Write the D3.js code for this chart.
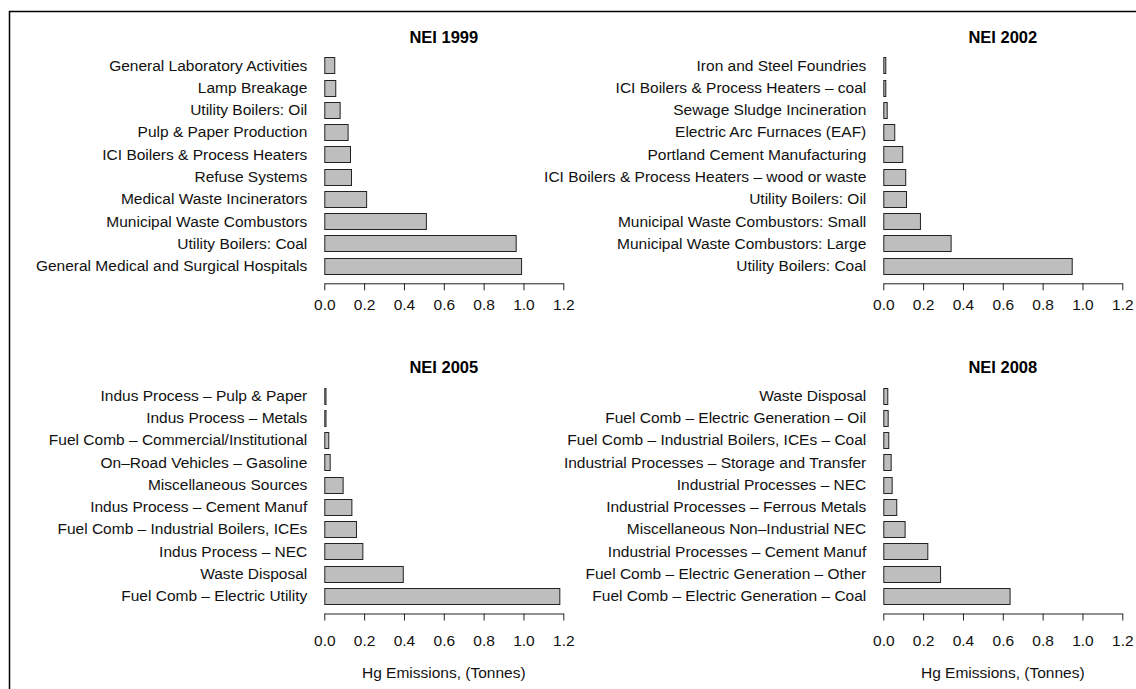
<!DOCTYPE html>
<html>
<head>
<meta charset="utf-8">
<script src="https://cdn.jsdelivr.net/npm/d3@7"></script>
<style>
  body { margin: 0; background: #fff; }
  svg { display: block; font-family: "Liberation Sans", Arial, Helvetica, sans-serif; }
</style>
</head>
<body>
<svg id="chart" width="1136" height="689"></svg>
<script>
// categories listed top to bottom as they appear in each panel
const cats1999 = ['General Laboratory Activities', 'Lamp Breakage', 'Utility Boilers: Oil',
  'Pulp & Paper Production', 'ICI Boilers & Process Heaters', 'Refuse Systems',
  'Medical Waste Incinerators', 'Municipal Waste Combustors', 'Utility Boilers: Coal',
  'General Medical and Surgical Hospitals'];
const vals1999 = [0.05, 0.055, 0.077, 0.117, 0.129, 0.134, 0.21, 0.51, 0.961, 0.988];

const cats2002 = ['Iron and Steel Foundries', 'ICI Boilers & Process Heaters \u2013 coal',
  'Sewage Sludge Incineration', 'Electric Arc Furnaces (EAF)', 'Portland Cement Manufacturing',
  'ICI Boilers & Process Heaters \u2013 wood or waste', 'Utility Boilers: Oil',
  'Municipal Waste Combustors: Small', 'Municipal Waste Combustors: Large', 'Utility Boilers: Coal'];
const vals2002 = [0.01, 0.01, 0.017, 0.055, 0.095, 0.11, 0.114, 0.184, 0.338, 0.946];

const cats2005 = ['Indus Process \u2013 Pulp & Paper', 'Indus Process \u2013 Metals',
  'Fuel Comb \u2013 Commercial/Institutional', 'On\u2013Road Vehicles \u2013 Gasoline',
  'Miscellaneous Sources', 'Indus Process \u2013 Cement Manuf',
  'Fuel Comb \u2013 Industrial Boilers, ICEs', 'Indus Process \u2013 NEC', 'Waste Disposal',
  'Fuel Comb \u2013 Electric Utility'];
const vals2005 = [0.006, 0.006, 0.02, 0.027, 0.092, 0.136, 0.159, 0.191, 0.394, 1.18];

const cats2008 = ['Waste Disposal', 'Fuel Comb \u2013 Electric Generation \u2013 Oil',
  'Fuel Comb \u2013 Industrial Boilers, ICEs \u2013 Coal',
  'Industrial Processes \u2013 Storage and Transfer', 'Industrial Processes \u2013 NEC',
  'Industrial Processes \u2013 Ferrous Metals', 'Miscellaneous Non\u2013Industrial NEC',
  'Industrial Processes \u2013 Cement Manuf', 'Fuel Comb \u2013 Electric Generation \u2013 Other',
  'Fuel Comb \u2013 Electric Generation \u2013 Coal'];
const vals2008 = [0.02, 0.022, 0.025, 0.037, 0.042, 0.065, 0.107, 0.221, 0.285, 0.634];

const xTicks = [0, 0.2, 0.4, 0.6, 0.8, 1.0, 1.2];
const xLabel = 'Hg Emissions, (Tonnes)';

const svg = d3.select('#chart');

// outer frame, runs off the right and bottom edges
svg.append('rect')
  .attr('x', 9.5).attr('y', 11.5)
  .attr('width', 1300).attr('height', 900)
  .attr('fill', 'none').attr('stroke', '#000').attr('stroke-width', 1.5);

function drawPanel(title, cats, vals, x0, top, xlab) {
  const g = svg.append('g');
  const x = d3.scaleLinear().domain([0, 1.2]).range([x0, x0 + 239]);
  const y = d3.scaleBand().domain(cats).range([top, top + 216.3]).paddingInner(0.28);

  g.selectAll('rect.bar')
    .data(cats)
    .join('rect')
    .attr('class', 'bar')
    .attr('x', x(0) + 0.5)
    .attr('y', d => Math.round(y(d)) + 0.5)
    .attr('width', (d, i) => x(vals[i]) - x(0))
    .attr('height', Math.round(y.bandwidth()))
    .attr('fill', '#bebebe')
    .attr('stroke', '#222')
    .attr('stroke-width', 1);

  g.selectAll('text.cat')
    .data(cats)
    .join('text')
    .attr('class', 'cat')
    .attr('x', x(0) - 17)
    .attr('y', d => y(d) + y.bandwidth() / 2)
    .attr('dy', '0.35em')
    .attr('text-anchor', 'end')
    .attr('font-size', '15.5px')
    .attr('fill', '#111')
    .text(d => d);

  g.append('text')
    .attr('x', (x.range()[0] + x.range()[1]) / 2)
    .attr('y', top - 20.5)
    .attr('dy', '0.35em')
    .attr('text-anchor', 'middle')
    .attr('font-size', '16.5px')
    .attr('font-weight', 'bold')
    .attr('fill', '#000')
    .text(title);

  const axisY = top + 226;
  const ax = g.append('g')
    .attr('transform', `translate(0,${axisY})`)
    .call(d3.axisBottom(x).tickValues(xTicks).tickFormat(d3.format('.1f'))
      .tickSize(7).tickSizeOuter(0).tickPadding(xlab ? 14 : 9));
  ax.select('.domain').attr('stroke', '#222');
  ax.selectAll('.tick line').attr('stroke', '#222');
  ax.selectAll('.tick text')
    .attr('font-size', '15.5px')
    .attr('font-family', '"Liberation Sans", Arial, Helvetica, sans-serif')
    .attr('fill', '#111');

  if (xlab) {
    g.append('text')
      .attr('x', (x.range()[0] + x.range()[1]) / 2)
      .attr('y', axisY + 59)
      .attr('dy', '0.35em')
      .attr('text-anchor', 'middle')
      .attr('font-size', '15.5px')
      .attr('fill', '#111')
      .text(xLabel);
  }
}

drawPanel('NEI 1999', cats1999, vals1999, 324.3, 57.3, false);
drawPanel('NEI 2002', cats2002, vals2002, 883.3, 57.3, false);
drawPanel('NEI 2005', cats2005, vals2005, 324.3, 387.5, true);
drawPanel('NEI 2008', cats2008, vals2008, 883.3, 387.5, true);
</script>
</body>
</html>
